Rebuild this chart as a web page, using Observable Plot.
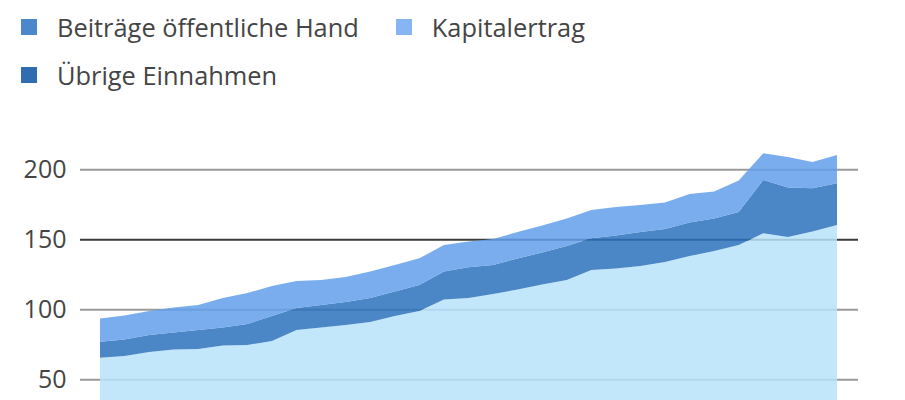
<!DOCTYPE html>
<html>
<head>
<meta charset="utf-8">
<script src="https://cdn.jsdelivr.net/npm/d3@7"></script>
<script src="https://cdn.jsdelivr.net/npm/@observablehq/plot@0.6"></script>
<style>
  html, body { margin: 0; padding: 0; background: #fff; }
  body { width: 905px; height: 400px; overflow: hidden; font-family: "Open Sans", sans-serif; }
  #legend { height: 110px; box-sizing: border-box; padding: 9px 0 0 21px; width: 640px;
            display: flex; flex-wrap: wrap; align-content: flex-start; row-gap: 13px; }
  .item { display: flex; align-items: center; margin-right: 37px; height: 35px;
          font-size: 25.4px; color: #454545; white-space: nowrap; }
  .sw { width: 16px; height: 16px; margin-right: 20px; flex: none; }
  #chart svg { display: block; }
</style>
</head>
<body>
<div id="legend"></div>
<div id="chart"></div>
<script>
// Years (x axis is outside the visible crop)
const years = d3.range(1993, 2024);

// Series values (billions)
const versicherte = [65.4,66.6,69.5,71.3,71.6,74.1,74.5,77.4,85.2,87,88.8,90.9,95.2,98.8,107,108.1,110.9,114.1,117.7,120.9,128.1,129.1,130.9,133.8,138,141.6,145.9,154.3,151.6,155.6,160.2];
const oeffentlicheHand = [11.5,11.8,12.1,12.1,13.6,12.9,15,17.8,15.7,16.1,16.4,17.1,17.5,18.6,20,21.9,20.7,22.2,22.9,24.3,22.6,23.6,24.3,23.6,24,23.3,23.6,38.1,35.4,30.8,29.8];
const kapitalertrag = [16.6,17.2,17.2,17.9,17.9,21,22.1,21.4,19.3,17.8,17.8,19,18.9,19,18.9,18.4,18.6,18.9,19.3,19.7,20.2,20.3,19.3,18.9,20.4,19.2,22.5,19,21.8,18.8,20.2];

// Series names and colors (stack order bottom -> top)
const seriesNames = ["Beiträge Versicherte und Arbeitgeber", "Beiträge öffentliche Hand", "Kapitalertrag", "Übrige Einnahmen"];
const seriesFill = ["#b7e3fa", "#2c72bd", "#629fea", "#1f5ea6"];
const legendNames = ["Beiträge öffentliche Hand", "Kapitalertrag", "Übrige Einnahmen"];
const legendColors = ["#4a88cb", "#85b6f3", "#2f6cb0"];
const yTicks = [50, 100, 150, 200];

// Legend
const legend = document.getElementById("legend");
legendNames.forEach((n, i) => {
  const it = document.createElement("div");
  it.className = "item";
  const sw = document.createElement("span");
  sw.className = "sw";
  sw.style.background = legendColors[i];
  it.appendChild(sw);
  it.appendChild(document.createTextNode(n));
  legend.appendChild(it);
});

// Long-format table
const seriesValues = [versicherte, oeffentlicheHand, kapitalertrag];
const rows = [];
seriesValues.forEach((vals, s) => vals.forEach((v, i) => rows.push({year: years[i], value: v, series: seriesNames[s]})));

const chart = Plot.plot({
  width: 905,
  height: 400,
  marginLeft: 80,
  marginRight: 47,
  marginTop: 31.3,
  marginBottom: 60.7,
  style: {fontFamily: "Open Sans, sans-serif", fontSize: "25px", color: "#454545", background: "transparent"},
  x: {type: "linear", domain: [1993, 2023], insetLeft: 20, insetRight: 21, axis: null},
  y: {domain: [0, 220], axis: null},
  color: {domain: seriesNames, range: seriesFill},
  marks: [
    Plot.ruleY(yTicks, {stroke: d => d === 150 ? "#3a3a3a" : "#9a9a9a", strokeWidth: 2}),
    Plot.areaY(rows, Plot.stackY({order: seriesNames}, {x: "year", y: "value", fill: "series", fillOpacity: 0.85})),
    Plot.axisY(yTicks, {label: null, tickSize: 0, tickPadding: 14, fontSize: 25, fill: "#454545", textAnchor: "end"})
  ]
});
document.getElementById("chart").appendChild(chart);
</script>
</body>
</html>
